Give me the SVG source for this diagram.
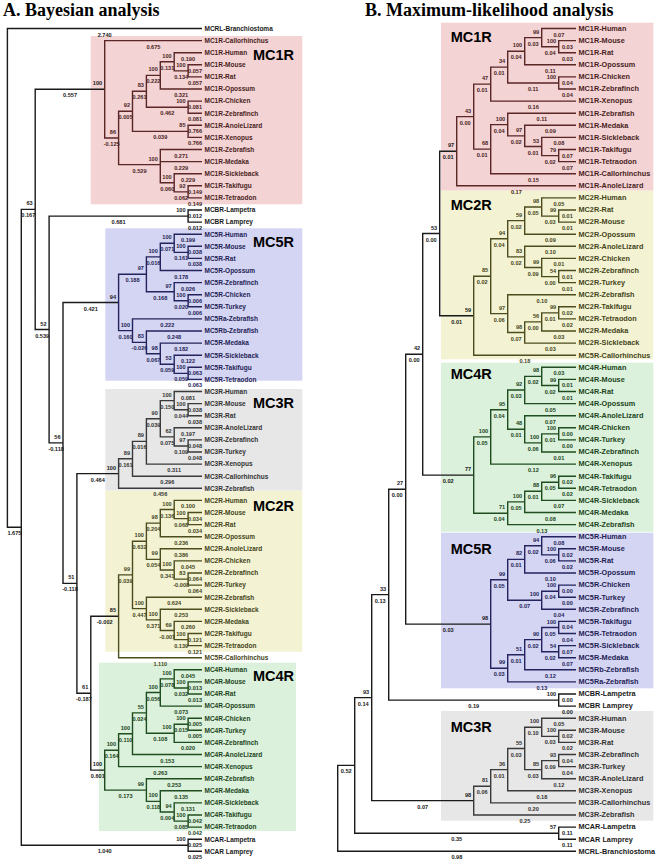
<svg xmlns="http://www.w3.org/2000/svg" width="661" height="865" viewBox="0 0 661 865">
<style>
.tt{font-family:"Liberation Serif","Times New Roman",serif;font-weight:bold;font-size:18px;fill:#000}
.bx{font-family:"Liberation Sans",Arial,sans-serif;font-weight:bold;font-size:14.5px;fill:#000}
.lf{font-family:"Liberation Sans",Arial,sans-serif;font-weight:bold;font-size:6.5px}
#b-leaves-outgroup,#b-mc1r,#b-mc2r,#b-mc4r,#b-mc5r,#b-mc3r{font-size:7.3px}
.nm{font-family:"Liberation Sans",Arial,sans-serif;font-weight:bold;font-size:5.6px}
.s{text-anchor:end}
.b{text-anchor:middle}
.ln path{fill:none;stroke-width:1.4}
.k0{stroke:#1a1a1a}.k1{stroke:#5a2626}.k2{stroke:#4c4c1e}.k3{stroke:#3a3a3a}.k4{stroke:#1f4d1f}.k5{stroke:#23235e}
.f0{fill:#1a1a1a}.f1{fill:#4a1e1e}.f2{fill:#45451a}.f3{fill:#333}.f4{fill:#1c451c}.f5{fill:#1e1e55}
.p1{fill:#f3d3d3}.p2{fill:#f3f3d3}.p3{fill:#e7e7e7}.p4{fill:#dbf1db}.p5{fill:#d4d4f3}
</style>
<rect width="661" height="865" fill="#fff"/>
<g id="boxes">
<rect class="p1" x="90.7" y="36" width="211.6" height="168.3"/>
<rect class="p5" x="105.3" y="228.3" width="197" height="152.4"/>
<rect class="p3" x="105.3" y="389" width="197" height="101.7"/>
<rect class="p2" x="105.3" y="490.7" width="197" height="161"/>
<rect class="p4" x="99" y="662.7" width="197" height="168.3"/>
<rect class="p1" x="441" y="22.7" width="212.3" height="168"/>
<rect class="p2" x="441" y="190.7" width="212.3" height="168.6"/>
<rect class="p4" x="441" y="362.7" width="212.3" height="169"/>
<rect class="p5" x="441" y="532.7" width="212.3" height="155.6"/>
<rect class="p3" x="441" y="711" width="212.3" height="109.7"/>
</g>
<g id="titles">
<text class="tt" x="3" y="16">A. Bayesian analysis</text>
<text class="tt" x="365" y="16">B. Maximum-likelihood analysis</text>
<text class="bx" x="253" y="60">MC1R</text>
<text class="bx" x="253" y="246.7">MC5R</text>
<text class="bx" x="253" y="408.3">MC3R</text>
<text class="bx" x="253" y="511">MC2R</text>
<text class="bx" x="253" y="680.7">MC4R</text>
<text class="bx" x="450.7" y="42.3">MC1R</text>
<text class="bx" x="450.7" y="210">MC2R</text>
<text class="bx" x="450.7" y="379.3">MC4R</text>
<text class="bx" x="450.7" y="554.3">MC5R</text>
<text class="bx" x="450.7" y="731.5">MC3R</text>
</g>
<g id="connectors" class="ln">
<g class="k0">
<path d="M202 28.5H7.4V527.3H21.3M35.2 209.4H21.3V845.3H188.1M104.7 89.3H35.2V329.5H49.1M188.1 216.1H49.1V442.9H63M118.6 302.5H63V583.4H76.9M118.6 473.6H76.9V693.2H90.8M118.6 616.3H90.8V770.1H104.7M202 210H188.1V222.1H202M202 839.2H188.1V851.3H202"/>
<path d="M354.7 765.4H337.7V851.3H576M371.7 697.6H354.7V833.2H558.7M388.7 594.6H371.7V800.6H473.7M405.7 489.2H388.7V700.1H558.7M422.7 354.3H405.7V624.1H490.7M439.7 233.5H422.7V475.1H473.7M456.7 151.2H439.7V315.7H473.7M576 694H558.7V706.1H576M576 827.1H558.7V839.2H576"/>
</g>
<g class="k1">
<path d="M202 40.6H104.7V138H118.6M132.5 111.3H118.6V164.6H160.3M146.4 91.3H132.5V131.4H188.1M160.3 75.4H146.4V107.2H188.1M174.2 61.8H160.3V89H202M202 52.7H174.2V70.9H188.1M202 64.8H188.1V76.9H202M202 101.1H188.1V113.2H202M202 125.3H188.1V137.4H202M202 149.5H160.3V182.8H174.2M160.3 161.6H202M202 173.7H174.2V191.9H188.1M202 185.8H188.1V197.9H202"/>
<path d="M473.7 116.6H456.7V185.8H576M490.7 84.1H473.7V149.1H490.7M507.7 67.1H490.7V101.1H576M524.7 51.2H507.7V83H558.7M541.7 37.6H524.7V64.8H576M576 28.5H541.7V46.7H558.7M576 40.6H558.7V52.7H576M576 76.9H558.7V89H576M507.7 124.6H490.7V173.7H576M576 113.2H507.7V135.9H524.7M576 125.3H524.7V146.5H541.7M576 137.4H541.7V155.6H558.7M576 149.5H558.7V161.6H576"/>
</g>
<g class="k5">
<path d="M146.4 274.3H118.6V330.6H132.5M160.3 256.9H146.4V291.7H174.2M174.2 243.3H160.3V270.5H202M202 234.2H174.2V252.4H188.1M202 246.3H188.1V258.4H202M202 282.6H174.2V300.8H188.1M202 294.7H188.1V306.8H202M202 318.9H132.5V342.4H146.4M202 331H146.4V353.7H160.3M202 343.1H160.3V364.3H174.2M202 355.2H174.2V373.4H188.1M202 367.3H188.1V379.4H202"/>
<path d="M507.7 579.8H490.7V668.3H507.7M524.7 559.4H507.7V600.2H541.7M541.7 545.8H524.7V573H576M576 536.7H541.7V554.9H558.7M576 548.8H558.7V560.9H576M558.7 591.2H541.7V609.3H576M576 585.1H558.7V597.2H576M524.7 654.7H507.7V681.9H576M541.7 639.6H524.7V669.8H576M558.7 627.5H541.7V651.7H558.7M576 621.4H558.7V633.5H576M576 645.6H558.7V657.7H576"/>
</g>
<g class="k3">
<path d="M132.5 458.8H118.6V488.3H202M146.4 441.4H132.5V476.2H202M160.3 418.8H146.4V464.1H202M174.2 400.6H160.3V436.9H174.2M202 391.5H174.2V409.7H188.1M202 403.6H188.1V415.7H202M202 427.8H174.2V446H188.1M202 439.9H188.1V452H202"/>
<path d="M490.7 786.3H473.7V815H576M507.7 769.6H490.7V802.9H576M524.7 748.5H507.7V790.8H576M541.7 727.3H524.7V769.6H541.7M576 718.2H541.7V736.4H558.7M576 730.3H558.7V742.4H576M558.7 760.6H541.7V778.7H576M576 754.5H558.7V766.6H576"/>
</g>
<g class="k2">
<path d="M132.5 574.9H118.6V657.7H202M146.4 541.3H132.5V608.6H146.4M160.3 523.1H146.4V559.4H160.3M174.2 509.5H160.3V536.7H202M202 500.4H174.2V518.6H188.1M202 512.5H188.1V524.6H202M202 548.8H160.3V570H174.2M202 560.9H174.2V579.1H188.1M202 573H188.1V585.1H202M202 597.2H146.4V619.9H160.3M202 609.3H160.3V630.5H174.2M202 621.4H174.2V639.6H188.1M202 633.5H188.1V645.6H202"/>
<path d="M490.7 276.2H473.7V355.2H576M507.7 238.8H490.7V313.6H507.7M524.7 220.6H507.7V256.9H524.7M541.7 207H524.7V234.2H576M576 197.9H541.7V216.1H558.7M576 210H558.7V222.1H576M576 246.3H524.7V267.5H541.7M576 258.4H541.7V276.6H558.7M576 270.5H558.7V282.6H576M576 294.7H507.7V332.5H524.7M541.7 321.9H524.7V343.1H576M558.7 312.9H541.7V331H576M576 306.8H558.7V318.9H576"/>
</g>
<g class="k4">
<path d="M118.6 750.2H104.7V790.1H146.4M132.5 733.7H118.6V766.6H202M146.4 712.9H132.5V754.5H202M160.3 692.5H146.4V733.3H174.2M174.2 678.9H160.3V706.1H202M202 669.8H174.2V688H188.1M202 681.9H188.1V694H202M188.1 724.3H174.2V742.4H202M202 718.2H188.1V730.3H202M202 778.7H146.4V801.4H160.3M202 790.8H160.3V812H174.2M202 802.9H174.2V821.1H188.1M202 815H188.1V827.1H202"/>
<path d="M490.7 436.9H473.7V513.3H507.7M507.7 409.7H490.7V464.1H576M524.7 390H507.7V429.3H524.7M541.7 376.4H524.7V403.6H576M576 367.3H541.7V385.5H558.7M576 379.4H558.7V391.5H576M576 415.7H524.7V442.9H541.7M558.7 433.9H541.7V452H576M576 427.8H558.7V439.9H576M524.7 501.9H507.7V524.6H576M541.7 491.3H524.7V512.5H576M558.7 482.3H541.7V500.4H576M576 476.2H558.7V488.3H576"/>
</g>
</g>

<g id="a-leaves-outgroup" class="lf f0">
<g id="a-mcrl-branchiostoma"><text x="204.5" y="30.8">MCRL-Branchiostoma</text><text class="nm b" x="104.7" y="36.5">2.740</text></g>
<g id="a-mcbr-lampetra"><text x="204.5" y="212.3">MCBR-Lampetra</text><text class="nm b" x="195.1" y="218">0.012</text></g>
<g id="a-mcbr-lamprey"><text x="204.5" y="224.4">MCBR Lamprey</text><text class="nm b" x="195.1" y="230.1">0.012</text></g>
<g id="a-mcar-lampetra"><text x="204.5" y="841.5">MCAR-Lampetra</text><text class="nm b" x="195.1" y="847.2">0.025</text></g>
<g id="a-mcar-lamprey"><text x="204.5" y="853.6">MCAR Lamprey</text><text class="nm b" x="195.1" y="859.3">0.025</text></g>
</g>
<g id="a-nodes-backbone" class="nm f0">
<g id="a-n1"><text class="b" x="14.4" y="535.3">1.675</text></g>
<g id="a-n2"><text class="s" x="32.7" y="205.4">63</text><text class="b" x="28.3" y="217.4">0.167</text></g>
<g id="a-n3"><text class="s" x="46.6" y="325.5">52</text><text class="b" x="42.2" y="337.5">0.539</text></g>
<g id="a-n4"><text class="s" x="60.5" y="438.9">56</text><text class="b" x="56.1" y="450.9">-0.118</text></g>
<g id="a-n5"><text class="s" x="74.4" y="579.4">51</text><text class="b" x="70" y="591.4">-0.118</text></g>
<g id="a-n6"><text class="s" x="88.3" y="689.2">61</text><text class="b" x="83.9" y="701.2">-0.187</text></g>
<g id="a-mcbr"><text class="s" x="185.6" y="212.1">100</text><text class="b" x="118.6" y="224.1">0.681</text></g>
<g id="a-mcar"><text class="s" x="185.6" y="841.3">100</text><text class="b" x="104.7" y="853.3">1.040</text></g>
<g id="a-mc1r-root"><text class="s" x="102.2" y="85.3">100</text><text class="b" x="70" y="97.3">0.557</text></g>
<g id="a-mc5r-root"><text class="s" x="116.1" y="298.5">94</text><text class="b" x="90.8" y="310.5">0.421</text></g>
<g id="a-mc3r-root"><text class="s" x="116.1" y="469.6">100</text><text class="b" x="97.8" y="481.6">0.464</text></g>
<g id="a-mc2r-root"><text class="s" x="116.1" y="612.3">85</text><text class="b" x="104.7" y="624.3">-0.002</text></g>
<g id="a-mc4r-root"><text class="s" x="102.2" y="766.1">100</text><text class="b" x="97.8" y="778.1">0.601</text></g>
</g>

<g id="a-mc1r" class="lf f1">
<g id="a-mc1r-callorhinchus"><text x="204.5" y="42.9">MC1R-Callorhinchus</text><text class="nm b" x="153.4" y="48.6">0.675</text></g>
<g id="a-mc1r-human"><text x="204.5" y="55">MC1R-Human</text><text class="nm b" x="188.1" y="60.7">0.190</text></g>
<g id="a-mc1r-mouse"><text x="204.5" y="67.1">MC1R-Mouse</text><text class="nm b" x="195.1" y="72.8">0.057</text></g>
<g id="a-mc1r-rat"><text x="204.5" y="79.2">MC1R-Rat</text><text class="nm b" x="195.1" y="84.9">0.057</text></g>
<g id="a-mc1r-opossum"><text x="204.5" y="91.3">MC1R-Opossum</text><text class="nm b" x="181.2" y="97">0.321</text></g>
<g id="a-mc1r-chicken"><text x="204.5" y="103.4">MC1R-Chicken</text><text class="nm b" x="195.1" y="109.1">0.081</text></g>
<g id="a-mc1r-zebrafinch"><text x="204.5" y="115.5">MC1R-Zebrafinch</text><text class="nm b" x="195.1" y="121.2">0.081</text></g>
<g id="a-mc1r-anolelizard"><text x="204.5" y="127.6">MC1R-AnoleLizard</text><text class="nm b" x="195.1" y="133.3">0.766</text></g>
<g id="a-mc1r-xenopus"><text x="204.5" y="139.7">MC1R-Xenopus</text><text class="nm b" x="195.1" y="145.4">0.766</text></g>
<g id="a-mc1r-zebrafish"><text x="204.5" y="151.8">MC1R-Zebrafish</text><text class="nm b" x="181.2" y="157.5">0.271</text></g>
<g id="a-mc1r-medaka"><text x="204.5" y="163.9">MC1R-Medaka</text><text class="nm b" x="181.2" y="169.6">0.229</text></g>
<g id="a-mc1r-sickleback"><text x="204.5" y="176">MC1R-Sickleback</text><text class="nm b" x="188.1" y="181.7">0.229</text></g>
<g id="a-mc1r-takifugu"><text x="204.5" y="188.1">MC1R-Takifugu</text><text class="nm b" x="195.1" y="193.8">0.149</text></g>
<g id="a-mc1r-tetraodon"><text x="204.5" y="200.2">MC1R-Tetraodon</text><text class="nm b" x="195.1" y="205.9">0.149</text></g>
<g class="nm">
<g id="a-mc1r-m1"><text class="s" x="116.1" y="134">86</text><text class="b" x="111.7" y="146">-0.125</text></g>
<g id="a-mc1r-m2"><text class="s" x="130" y="107.3">92</text><text class="b" x="125.6" y="119.3">0.005</text></g>
<g id="a-mc1r-m3"><text class="s" x="143.9" y="87.3">83</text><text class="b" x="139.5" y="99.3">0.261</text></g>
<g id="a-mc1r-m4"><text class="s" x="157.8" y="71.4">100</text><text class="b" x="153.4" y="83.4">0.222</text></g>
<g id="a-mc1r-hmr"><text class="s" x="171.7" y="57.8">100</text><text class="b" x="167.3" y="69.8">0.131</text></g>
<g id="a-mc1r-mr"><text class="s" x="185.6" y="66.9">100</text><text class="b" x="181.2" y="78.9">0.134</text></g>
<g id="a-mc1r-cz"><text class="s" x="185.6" y="103.2">100</text><text class="b" x="167.3" y="115.2">0.462</text></g>
<g id="a-mc1r-ax"><text class="s" x="185.6" y="127.4">85</text><text class="b" x="160.3" y="139.4">0.039</text></g>
<g id="a-mc1r-fish"><text class="s" x="157.8" y="160.6">100</text><text class="b" x="139.5" y="172.6">0.529</text></g>
<g id="a-mc1r-f"><text class="s" x="171.7" y="178.8">100</text><text class="b" x="167.3" y="190.8">0.060</text></g>
<g id="a-mc1r-tt"><text class="s" x="185.6" y="187.9">92</text><text class="b" x="181.2" y="199.9">0.062</text></g>
</g>
</g>

<g id="a-mc5r" class="lf f5">
<g id="a-mc5r-human"><text x="204.5" y="236.5">MC5R-Human</text><text class="nm b" x="188.1" y="242.2">0.199</text></g>
<g id="a-mc5r-mouse"><text x="204.5" y="248.6">MC5R-Mouse</text><text class="nm b" x="195.1" y="254.3">0.038</text></g>
<g id="a-mc5r-rat"><text x="204.5" y="260.7">MC5R-Rat</text><text class="nm b" x="195.1" y="266.4">0.038</text></g>
<g id="a-mc5r-opossum"><text x="204.5" y="272.8">MC5R-Opossum</text><text class="nm b" x="181.2" y="278.5">0.178</text></g>
<g id="a-mc5r-zebrafinch"><text x="204.5" y="284.9">MC5R-Zebrafinch</text><text class="nm b" x="188.1" y="290.6">0.026</text></g>
<g id="a-mc5r-chicken"><text x="204.5" y="297">MC5R-Chicken</text><text class="nm b" x="195.1" y="302.7">0.006</text></g>
<g id="a-mc5r-turkey"><text x="204.5" y="309.1">MC5R-Turkey</text><text class="nm b" x="195.1" y="314.8">0.006</text></g>
<g id="a-mc5ra-zebrafish"><text x="204.5" y="321.2">MC5Ra-Zebrafish</text><text class="nm b" x="167.3" y="326.9">0.222</text></g>
<g id="a-mc5rb-zebrafish"><text x="204.5" y="333.3">MC5Rb-Zebrafish</text><text class="nm b" x="174.2" y="339">0.248</text></g>
<g id="a-mc5r-medaka"><text x="204.5" y="345.4">MC5R-Medaka</text><text class="nm b" x="181.2" y="351.1">0.182</text></g>
<g id="a-mc5r-sickleback"><text x="204.5" y="357.5">MC5R-Sickleback</text><text class="nm b" x="188.1" y="363.2">0.122</text></g>
<g id="a-mc5r-takifugu"><text x="204.5" y="369.6">MC5R-Takifugu</text><text class="nm b" x="195.1" y="375.3">0.063</text></g>
<g id="a-mc5r-tetraodon"><text x="204.5" y="381.7">MC5R-Tetraodon</text><text class="nm b" x="195.1" y="387.4">0.063</text></g>
<g class="nm">
<g id="a-mc5r-a"><text class="s" x="143.9" y="270.3">97</text><text class="b" x="132.5" y="282.3">0.188</text></g>
<g id="a-mc5r-hmro"><text class="s" x="157.8" y="252.9">100</text><text class="b" x="153.4" y="264.9">0.016</text></g>
<g id="a-mc5r-hmr"><text class="s" x="171.7" y="239.3">100</text><text class="b" x="167.3" y="251.3">0.071</text></g>
<g id="a-mc5r-mr"><text class="s" x="185.6" y="248.4">100</text><text class="b" x="181.2" y="260.4">0.161</text></g>
<g id="a-mc5r-zct"><text class="s" x="171.7" y="287.7">97</text><text class="b" x="160.3" y="299.7">0.168</text></g>
<g id="a-mc5r-ct"><text class="s" x="185.6" y="296.8">100</text><text class="b" x="181.2" y="308.8">0.020</text></g>
<g id="a-mc5r-b"><text class="s" x="130" y="326.6">100</text><text class="b" x="125.6" y="338.6">0.160</text></g>
<g id="a-mc5r-rb"><text class="s" x="143.9" y="338.4">83</text><text class="b" x="139.5" y="350.4">-0.026</text></g>
<g id="a-mc5r-mstt"><text class="s" x="157.8" y="349.7">98</text><text class="b" x="153.4" y="361.7">0.067</text></g>
<g id="a-mc5r-stt"><text class="s" x="171.7" y="360.3">53</text><text class="b" x="167.3" y="372.3">0.059</text></g>
<g id="a-mc5r-tt"><text class="s" x="185.6" y="369.4">100</text><text class="b" x="181.2" y="381.4">0.059</text></g>
</g>
</g>

<g id="a-mc3r" class="lf f3">
<g id="a-mc3r-human"><text x="204.5" y="393.8">MC3R-Human</text><text class="nm b" x="188.1" y="399.5">0.081</text></g>
<g id="a-mc3r-mouse"><text x="204.5" y="405.9">MC3R-Mouse</text><text class="nm b" x="195.1" y="411.6">0.038</text></g>
<g id="a-mc3r-rat"><text x="204.5" y="418">MC3R-Rat</text><text class="nm b" x="195.1" y="423.7">0.038</text></g>
<g id="a-mc3r-anolelizard"><text x="204.5" y="430.1">MC3R-AnoleLizard</text><text class="nm b" x="188.1" y="435.8">0.197</text></g>
<g id="a-mc3r-zebrafinch"><text x="204.5" y="442.2">MC3R-Zebrafinch</text><text class="nm b" x="195.1" y="447.9">0.048</text></g>
<g id="a-mc3r-turkey"><text x="204.5" y="454.3">MC3R-Turkey</text><text class="nm b" x="195.1" y="460">0.048</text></g>
<g id="a-mc3r-xenopus"><text x="204.5" y="466.4">MC3R-Xenopus</text><text class="nm b" x="174.2" y="472.1">0.311</text></g>
<g id="a-mc3r-callorhinchus"><text x="204.5" y="478.5">MC3R-Callorhinchus</text><text class="nm b" x="167.3" y="484.2">0.296</text></g>
<g id="a-mc3r-zebrafish"><text x="204.5" y="490.6">MC3R-Zebrafish</text><text class="nm b" x="160.3" y="496.3">0.456</text></g>
<g class="nm">
<g id="a-mc3r-x5"><text class="s" x="130" y="454.8">89</text><text class="b" x="125.6" y="466.8">0.161</text></g>
<g id="a-mc3r-x4"><text class="s" x="143.9" y="437.4">89</text><text class="b" x="139.5" y="449.4">0.016</text></g>
<g id="a-mc3r-x3"><text class="s" x="157.8" y="414.8">90</text><text class="b" x="153.4" y="426.8">0.039</text></g>
<g id="a-mc3r-hmr"><text class="s" x="171.7" y="396.6">100</text><text class="b" x="167.3" y="408.6">0.150</text></g>
<g id="a-mc3r-mr"><text class="s" x="185.6" y="405.7">100</text><text class="b" x="181.2" y="417.7">0.044</text></g>
<g id="a-mc3r-x2"><text class="s" x="171.7" y="432.9">62</text><text class="b" x="167.3" y="444.9">0.075</text></g>
<g id="a-mc3r-zt"><text class="s" x="185.6" y="442">97</text><text class="b" x="181.2" y="454">0.109</text></g>
</g>
</g>

<g id="a-mc2r" class="lf f2">
<g id="a-mc2r-human"><text x="204.5" y="502.7">MC2R-Human</text><text class="nm b" x="188.1" y="508.4">0.100</text></g>
<g id="a-mc2r-mouse"><text x="204.5" y="514.8">MC2R-Mouse</text><text class="nm b" x="195.1" y="520.5">0.034</text></g>
<g id="a-mc2r-rat"><text x="204.5" y="526.9">MC2R-Rat</text><text class="nm b" x="195.1" y="532.6">0.034</text></g>
<g id="a-mc2r-opossum"><text x="204.5" y="539">MC2R-Opossum</text><text class="nm b" x="181.2" y="544.7">0.236</text></g>
<g id="a-mc2r-anolelizard"><text x="204.5" y="551.1">MC2R-AnoleLizard</text><text class="nm b" x="181.2" y="556.8">0.386</text></g>
<g id="a-mc2r-chicken"><text x="204.5" y="563.2">MC2R-Chicken</text><text class="nm b" x="188.1" y="568.9">0.045</text></g>
<g id="a-mc2r-zebrafinch"><text x="204.5" y="575.3">MC2R-Zebrafinch</text><text class="nm b" x="195.1" y="581">0.064</text></g>
<g id="a-mc2r-turkey"><text x="204.5" y="587.4">MC2R-Turkey</text><text class="nm b" x="195.1" y="593.1">0.064</text></g>
<g id="a-mc2r-zebrafish"><text x="204.5" y="599.5">MC2R-Zebrafish</text><text class="nm b" x="174.2" y="605.2">0.624</text></g>
<g id="a-mc2r-sickleback"><text x="204.5" y="611.6">MC2R-Sickleback</text><text class="nm b" x="181.2" y="617.3">0.253</text></g>
<g id="a-mc2r-medaka"><text x="204.5" y="623.7">MC2R-Medaka</text><text class="nm b" x="188.1" y="629.4">0.260</text></g>
<g id="a-mc2r-takifugu"><text x="204.5" y="635.8">MC2R-Takifugu</text><text class="nm b" x="195.1" y="641.5">0.121</text></g>
<g id="a-mc2r-tetraodon"><text x="204.5" y="647.9">MC2R-Tetraodon</text><text class="nm b" x="195.1" y="653.6">0.121</text></g>
<g id="a-mc5r-callorhinchus"><text x="204.5" y="660">MC5R-Callorhinchus</text><text class="nm b" x="160.3" y="665.7">1.110</text></g>
<g class="nm">
<g id="a-mc2r-tf"><text class="s" x="130" y="570.9">99</text><text class="b" x="125.6" y="582.9">0.039</text></g>
<g id="a-mc2r-tet"><text class="s" x="143.9" y="537.3">100</text><text class="b" x="139.5" y="549.3">0.632</text></g>
<g id="a-mc2r-hmro"><text class="s" x="157.8" y="519.1">98</text><text class="b" x="153.4" y="531.1">0.204</text></g>
<g id="a-mc2r-hmr"><text class="s" x="171.7" y="505.5">100</text><text class="b" x="167.3" y="517.5">0.136</text></g>
<g id="a-mc2r-mr"><text class="s" x="185.6" y="514.6">100</text><text class="b" x="181.2" y="526.6">0.068</text></g>
<g id="a-mc2r-aczt"><text class="s" x="157.8" y="555.4">99</text><text class="b" x="153.4" y="567.4">0.054</text></g>
<g id="a-mc2r-czt"><text class="s" x="171.7" y="566">100</text><text class="b" x="167.3" y="578">0.341</text></g>
<g id="a-mc2r-zt"><text class="s" x="185.6" y="575.1">83</text><text class="b" x="181.2" y="587.1">-0.008</text></g>
<g id="a-mc2r-zsmtt"><text class="s" x="143.9" y="604.6">100</text><text class="b" x="139.5" y="616.6">0.447</text></g>
<g id="a-mc2r-smtt"><text class="s" x="157.8" y="615.9">100</text><text class="b" x="153.4" y="627.9">0.371</text></g>
<g id="a-mc2r-mtt"><text class="s" x="171.7" y="626.5">69</text><text class="b" x="167.3" y="638.5">-0.007</text></g>
<g id="a-mc2r-tt"><text class="s" x="185.6" y="635.6">100</text><text class="b" x="181.2" y="647.6">0.139</text></g>
</g>
</g>

<g id="a-mc4r" class="lf f4">
<g id="a-mc4r-human"><text x="204.5" y="672.1">MC4R-Human</text><text class="nm b" x="188.1" y="677.8">0.045</text></g>
<g id="a-mc4r-mouse"><text x="204.5" y="684.2">MC4R-Mouse</text><text class="nm b" x="195.1" y="689.9">0.013</text></g>
<g id="a-mc4r-rat"><text x="204.5" y="696.3">MC4R-Rat</text><text class="nm b" x="195.1" y="702">0.013</text></g>
<g id="a-mc4r-opossum"><text x="204.5" y="708.4">MC4R-Opossum</text><text class="nm b" x="181.2" y="714.1">0.073</text></g>
<g id="a-mc4r-chicken"><text x="204.5" y="720.5">MC4R-Chicken</text><text class="nm b" x="195.1" y="726.2">0.005</text></g>
<g id="a-mc4r-turkey"><text x="204.5" y="732.6">MC4R-Turkey</text><text class="nm b" x="195.1" y="738.3">0.005</text></g>
<g id="a-mc4r-zebrafinch"><text x="204.5" y="744.7">MC4R-Zebrafinch</text><text class="nm b" x="188.1" y="750.4">0.020</text></g>
<g id="a-mc4r-anolelizard"><text x="204.5" y="756.8">MC4R-AnoleLizard</text><text class="nm b" x="167.3" y="762.5">0.153</text></g>
<g id="a-mc4r-xenopus"><text x="204.5" y="768.9">MC4R-Xenopus</text><text class="nm b" x="160.3" y="774.6">0.263</text></g>
<g id="a-mc4r-zebrafish"><text x="204.5" y="781">MC4R-Zebrafish</text><text class="nm b" x="174.2" y="786.7">0.253</text></g>
<g id="a-mc4r-medaka"><text x="204.5" y="793.1">MC4R-Medaka</text><text class="nm b" x="181.2" y="798.8">0.135</text></g>
<g id="a-mc4r-sickleback"><text x="204.5" y="805.2">MC4R-Sickleback</text><text class="nm b" x="188.1" y="810.9">0.131</text></g>
<g id="a-mc4r-takifugu"><text x="204.5" y="817.3">MC4R-Takifugu</text><text class="nm b" x="195.1" y="823">0.042</text></g>
<g id="a-mc4r-tetraodon"><text x="204.5" y="829.4">MC4R-Tetraodon</text><text class="nm b" x="195.1" y="835.1">0.042</text></g>
<g class="nm">
<g id="a-mc4r-t6"><text class="s" x="116.1" y="746.2">100</text><text class="b" x="111.7" y="758.2">0.164</text></g>
<g id="a-mc4r-t5"><text class="s" x="130" y="729.7">100</text><text class="b" x="125.6" y="741.7">0.110</text></g>
<g id="a-mc4r-t4"><text class="s" x="143.9" y="708.9">55</text><text class="b" x="139.5" y="720.9">0.024</text></g>
<g id="a-mc4r-hmro"><text class="s" x="157.8" y="688.5">100</text><text class="b" x="153.4" y="700.5">0.056</text></g>
<g id="a-mc4r-hmr"><text class="s" x="171.7" y="674.9">100</text><text class="b" x="167.3" y="686.9">0.078</text></g>
<g id="a-mc4r-mr"><text class="s" x="185.6" y="684">100</text><text class="b" x="181.2" y="696">0.032</text></g>
<g id="a-mc4r-ctz"><text class="s" x="171.7" y="729.3">100</text><text class="b" x="160.3" y="741.3">0.108</text></g>
<g id="a-mc4r-ct"><text class="s" x="185.6" y="720.3">100</text><text class="b" x="181.2" y="732.3">0.015</text></g>
<g id="a-mc4r-zmstt"><text class="s" x="143.9" y="786.1">99</text><text class="b" x="125.6" y="798.1">0.173</text></g>
<g id="a-mc4r-mstt"><text class="s" x="157.8" y="797.4">100</text><text class="b" x="153.4" y="809.4">0.118</text></g>
<g id="a-mc4r-stt"><text class="s" x="171.7" y="808">94</text><text class="b" x="167.3" y="820">0.004</text></g>
<g id="a-mc4r-tt"><text class="s" x="185.6" y="817.1">100</text><text class="b" x="181.2" y="829.1">0.085</text></g>
</g>
</g>

<g id="b-leaves-outgroup" class="lf f0">
<g id="b-mcbr-lampetra"><text x="578.5" y="696.3">MCBR-Lampetra</text><text class="nm b" x="567.4" y="702">0.00</text></g>
<g id="b-mcbr-lamprey"><text x="578.5" y="708.4">MCBR Lamprey</text><text class="nm b" x="567.4" y="714.1">0.00</text></g>
<g id="b-mcar-lampetra"><text x="578.5" y="829.4">MCAR-Lampetra</text><text class="nm b" x="567.4" y="835.1">0.11</text></g>
<g id="b-mcar-lamprey"><text x="578.5" y="841.5">MCAR Lamprey</text><text class="nm b" x="567.4" y="847.2">0.11</text></g>
<g id="b-mcrl-branchiostoma"><text x="578.5" y="853.6">MCRL-Branchiostoma</text><text class="nm b" x="456.9" y="859.3">0.98</text></g>
</g>
<g id="b-nodes-backbone" class="nm f0">
<g id="b-r2"><text class="b" x="346.2" y="773.4">0.52</text></g>
<g id="b-r3"><text class="s" x="369.2" y="693.6">93</text><text class="b" x="363.2" y="705.6">0.14</text></g>
<g id="b-r4"><text class="s" x="386.2" y="590.6">33</text><text class="b" x="380.2" y="602.6">0.13</text></g>
<g id="b-r5"><text class="s" x="403.2" y="485.2">27</text><text class="b" x="397.2" y="497.2">0.00</text></g>
<g id="b-r6"><text class="s" x="420.2" y="350.3">42</text><text class="b" x="414.2" y="362.3">0.00</text></g>
<g id="b-r7"><text class="s" x="437.2" y="229.5">53</text><text class="b" x="431.2" y="241.5">0.00</text></g>
<g id="b-mcar"><text class="s" x="556.2" y="829.2">57</text><text class="b" x="456.7" y="841.2">0.35</text></g>
<g id="b-mcbr"><text class="s" x="556.2" y="696.1">100</text><text class="b" x="473.7" y="708.1">0.19</text></g>
<g id="b-mc3r-root"><text class="s" x="471.2" y="796.6">98</text><text class="b" x="422.7" y="808.6">0.07</text></g>
<g id="b-mc5r-root"><text class="s" x="488.2" y="620.1">98</text><text class="b" x="448.2" y="632.1">0.03</text></g>
<g id="b-mc4r-root"><text class="s" x="471.2" y="471.1">77</text><text class="b" x="448.2" y="483.1">0.02</text></g>
<g id="b-mc2r-root"><text class="s" x="471.2" y="311.7">59</text><text class="b" x="456.7" y="323.7">0.01</text></g>
<g id="b-mc1r-root"><text class="s" x="454.2" y="147.2">97</text><text class="b" x="448.2" y="159.2">0.01</text></g>
</g>

<g id="b-mc1r" class="lf f1">
<g id="b-mc1r-human"><text x="578.5" y="30.8">MC1R-Human</text><text class="nm b" x="558.9" y="36.5">0.07</text></g>
<g id="b-mc1r-mouse"><text x="578.5" y="42.9">MC1R-Mouse</text><text class="nm b" x="567.4" y="48.6">0.03</text></g>
<g id="b-mc1r-rat"><text x="578.5" y="55">MC1R-Rat</text><text class="nm b" x="567.4" y="60.7">0.03</text></g>
<g id="b-mc1r-opossum"><text x="578.5" y="67.1">MC1R-Opossum</text><text class="nm b" x="550.4" y="72.8">0.11</text></g>
<g id="b-mc1r-chicken"><text x="578.5" y="79.2">MC1R-Chicken</text><text class="nm b" x="567.4" y="84.9">0.04</text></g>
<g id="b-mc1r-zebrafinch"><text x="578.5" y="91.3">MC1R-Zebrafinch</text><text class="nm b" x="567.4" y="97">0.04</text></g>
<g id="b-mc1r-xenopus"><text x="578.5" y="103.4">MC1R-Xenopus</text><text class="nm b" x="533.4" y="109.1">0.16</text></g>
<g id="b-mc1r-zebrafish"><text x="578.5" y="115.5">MC1R-Zebrafish</text><text class="nm b" x="541.9" y="121.2">0.11</text></g>
<g id="b-mc1r-medaka"><text x="578.5" y="127.6">MC1R-Medaka</text><text class="nm b" x="550.4" y="133.3">0.09</text></g>
<g id="b-mc1r-sickleback"><text x="578.5" y="139.7">MC1R-Sickleback</text><text class="nm b" x="558.9" y="145.4">0.08</text></g>
<g id="b-mc1r-takifugu"><text x="578.5" y="151.8">MC1R-Takifugu</text><text class="nm b" x="567.4" y="157.5">0.07</text></g>
<g id="b-mc1r-tetraodon"><text x="578.5" y="163.9">MC1R-Tetraodon</text><text class="nm b" x="567.4" y="169.6">0.07</text></g>
<g id="b-mc1r-callorhinchus"><text x="578.5" y="176">MC1R-Callorhinchus</text><text class="nm b" x="533.4" y="181.7">0.15</text></g>
<g id="b-mc1r-anolelizard"><text x="578.5" y="188.1">MC1R-AnoleLizard</text><text class="nm b" x="516.4" y="193.8">0.17</text></g>
<g class="nm">
<g id="b-mc1r-c2"><text class="s" x="471.2" y="112.6">43</text><text class="b" x="465.2" y="124.6">0.00</text></g>
<g id="b-mc1r-c3"><text class="s" x="488.2" y="80.1">47</text><text class="b" x="482.2" y="92.1">0.01</text></g>
<g id="b-mc1r-c5"><text class="s" x="505.2" y="63.1">34</text><text class="b" x="499.2" y="75.1">0.01</text></g>
<g id="b-mc1r-c7"><text class="s" x="522.2" y="47.2">100</text><text class="b" x="516.2" y="59.2">0.04</text></g>
<g id="b-mc1r-hmr"><text class="s" x="539.2" y="33.6">99</text><text class="b" x="533.2" y="45.6">0.03</text></g>
<g id="b-mc1r-mr"><text class="s" x="556.2" y="42.7">100</text><text class="b" x="550.2" y="54.7">0.04</text></g>
<g id="b-mc1r-cz"><text class="s" x="556.2" y="79">100</text><text class="b" x="533.2" y="91">0.11</text></g>
<g id="b-mc1r-c4"><text class="s" x="488.2" y="145.1">68</text><text class="b" x="482.2" y="157.1">0.01</text></g>
<g id="b-mc1r-c6"><text class="s" x="505.2" y="120.6">100</text><text class="b" x="499.2" y="132.6">0.04</text></g>
<g id="b-mc1r-f1"><text class="s" x="522.2" y="131.9">97</text><text class="b" x="516.2" y="143.9">0.02</text></g>
<g id="b-mc1r-f2"><text class="s" x="539.2" y="142.5">53</text><text class="b" x="533.2" y="154.5">0.01</text></g>
<g id="b-mc1r-tt"><text class="s" x="556.2" y="151.6">79</text><text class="b" x="550.2" y="163.6">0.02</text></g>
</g>
</g>

<g id="b-mc2r" class="lf f2">
<g id="b-mc2r-human"><text x="578.5" y="200.2">MC2R-Human</text><text class="nm b" x="558.9" y="205.9">0.05</text></g>
<g id="b-mc2r-rat"><text x="578.5" y="212.3">MC2R-Rat</text><text class="nm b" x="567.4" y="218">0.01</text></g>
<g id="b-mc2r-mouse"><text x="578.5" y="224.4">MC2R-Mouse</text><text class="nm b" x="567.4" y="230.1">0.01</text></g>
<g id="b-mc2r-opossum"><text x="578.5" y="236.5">MC2R-Opossum</text><text class="nm b" x="550.4" y="242.2">0.09</text></g>
<g id="b-mc2r-anolelizard"><text x="578.5" y="248.6">MC2R-AnoleLizard</text><text class="nm b" x="550.4" y="254.3">0.10</text></g>
<g id="b-mc2r-chicken"><text x="578.5" y="260.7">MC2R-Chicken</text><text class="nm b" x="558.9" y="266.4">0.01</text></g>
<g id="b-mc2r-zebrafinch"><text x="578.5" y="272.8">MC2R-Zebrafinch</text><text class="nm b" x="567.4" y="278.5">0.01</text></g>
<g id="b-mc2r-turkey"><text x="578.5" y="284.9">MC2R-Turkey</text><text class="nm b" x="567.4" y="290.6">0.01</text></g>
<g id="b-mc2r-zebrafish"><text x="578.5" y="297">MC2R-Zebrafish</text><text class="nm b" x="541.9" y="302.7">0.10</text></g>
<g id="b-mc2r-takifugu"><text x="578.5" y="309.1">MC2R-Takifugu</text><text class="nm b" x="567.4" y="314.8">0.02</text></g>
<g id="b-mc2r-tetraodon"><text x="578.5" y="321.2">MC2R-Tetraodon</text><text class="nm b" x="567.4" y="326.9">0.02</text></g>
<g id="b-mc2r-medaka"><text x="578.5" y="333.3">MC2R-Medaka</text><text class="nm b" x="558.9" y="339">0.03</text></g>
<g id="b-mc2r-sickleback"><text x="578.5" y="345.4">MC2R-Sickleback</text><text class="nm b" x="550.4" y="351.1">0.03</text></g>
<g id="b-mc5r-callorhinchus"><text x="578.5" y="357.5">MC5R-Callorhinchus</text><text class="nm b" x="524.9" y="363.2">0.18</text></g>
<g class="nm">
<g id="b-mc2r-u"><text class="s" x="488.2" y="272.2">85</text><text class="b" x="482.2" y="284.2">0.02</text></g>
<g id="b-mc2r-t"><text class="s" x="505.2" y="234.8">94</text><text class="b" x="499.2" y="246.8">0.04</text></g>
<g id="b-mc2r-hmro"><text class="s" x="522.2" y="216.6">59</text><text class="b" x="516.2" y="228.6">0.02</text></g>
<g id="b-mc2r-hmr"><text class="s" x="539.2" y="203">98</text><text class="b" x="533.2" y="215">0.05</text></g>
<g id="b-mc2r-rm"><text class="s" x="556.2" y="212.1">99</text><text class="b" x="550.2" y="224.1">0.03</text></g>
<g id="b-mc2r-aczt"><text class="s" x="522.2" y="252.9">83</text><text class="b" x="516.2" y="264.9">0.02</text></g>
<g id="b-mc2r-czt"><text class="s" x="539.2" y="263.5">99</text><text class="b" x="533.2" y="275.5">0.09</text></g>
<g id="b-mc2r-zt"><text class="s" x="556.2" y="272.6">54</text><text class="b" x="550.2" y="284.6">0.00</text></g>
<g id="b-mc2r-fish"><text class="s" x="505.2" y="309.6">97</text><text class="b" x="499.2" y="321.6">0.06</text></g>
<g id="b-mc2r-ttms"><text class="s" x="522.2" y="328.5">98</text><text class="b" x="516.2" y="340.5">0.07</text></g>
<g id="b-mc2r-ttm"><text class="s" x="539.2" y="317.9">56</text><text class="b" x="533.2" y="329.9">0.00</text></g>
<g id="b-mc2r-tt"><text class="s" x="556.2" y="308.9">99</text><text class="b" x="550.2" y="320.9">0.01</text></g>
</g>
</g>

<g id="b-mc4r" class="lf f4">
<g id="b-mc4r-human"><text x="578.5" y="369.6">MC4R-Human</text><text class="nm b" x="558.9" y="375.3">0.03</text></g>
<g id="b-mc4r-mouse"><text x="578.5" y="381.7">MC4R-Mouse</text><text class="nm b" x="567.4" y="387.4">0.01</text></g>
<g id="b-mc4r-rat"><text x="578.5" y="393.8">MC4R-Rat</text><text class="nm b" x="567.4" y="399.5">0.01</text></g>
<g id="b-mc4r-opossum"><text x="578.5" y="405.9">MC4R-Opossum</text><text class="nm b" x="550.4" y="411.6">0.05</text></g>
<g id="b-mc4r-anolelizard"><text x="578.5" y="418">MC4R-AnoleLizard</text><text class="nm b" x="550.4" y="423.7">0.07</text></g>
<g id="b-mc4r-chicken"><text x="578.5" y="430.1">MC4R-Chicken</text><text class="nm b" x="567.4" y="435.8">0.00</text></g>
<g id="b-mc4r-turkey"><text x="578.5" y="442.2">MC4R-Turkey</text><text class="nm b" x="567.4" y="447.9">0.00</text></g>
<g id="b-mc4r-zebrafinch"><text x="578.5" y="454.3">MC4R-Zebrafinch</text><text class="nm b" x="558.9" y="460">0.01</text></g>
<g id="b-mc4r-xenopus"><text x="578.5" y="466.4">MC4R-Xenopus</text><text class="nm b" x="533.4" y="472.1">0.12</text></g>
<g id="b-mc4r-takifugu"><text x="578.5" y="478.5">MC4R-Takifugu</text><text class="nm b" x="567.4" y="484.2">0.02</text></g>
<g id="b-mc4r-tetraodon"><text x="578.5" y="490.6">MC4R-Tetraodon</text><text class="nm b" x="567.4" y="496.3">0.02</text></g>
<g id="b-mc4r-sickleback"><text x="578.5" y="502.7">MC4R-Sickleback</text><text class="nm b" x="558.9" y="508.4">0.07</text></g>
<g id="b-mc4r-medaka"><text x="578.5" y="514.8">MC4R-Medaka</text><text class="nm b" x="550.4" y="520.5">0.08</text></g>
<g id="b-mc4r-zebrafish"><text x="578.5" y="526.9">MC4R-Zebrafish</text><text class="nm b" x="541.9" y="532.6">0.13</text></g>
<g class="nm">
<g id="b-mc4r-tet"><text class="s" x="488.2" y="432.9">100</text><text class="b" x="482.2" y="444.9">0.05</text></g>
<g id="b-mc4r-t"><text class="s" x="505.2" y="405.7">95</text><text class="b" x="499.2" y="417.7">0.04</text></g>
<g id="b-mc4r-hmro"><text class="s" x="522.2" y="386">92</text><text class="b" x="516.2" y="398">0.03</text></g>
<g id="b-mc4r-hmr"><text class="s" x="539.2" y="372.4">98</text><text class="b" x="533.2" y="384.4">0.02</text></g>
<g id="b-mc4r-mr"><text class="s" x="556.2" y="381.5">99</text><text class="b" x="550.2" y="393.5">0.02</text></g>
<g id="b-mc4r-ab"><text class="s" x="522.2" y="425.3">48</text><text class="b" x="516.2" y="437.3">0.01</text></g>
<g id="b-mc4r-ctz"><text class="s" x="539.2" y="438.9">100</text><text class="b" x="533.2" y="450.9">0.06</text></g>
<g id="b-mc4r-ct"><text class="s" x="556.2" y="429.9">100</text><text class="b" x="550.2" y="441.9">0.01</text></g>
<g id="b-mc4r-fish"><text class="s" x="505.2" y="509.3">71</text><text class="b" x="499.2" y="521.3">0.04</text></g>
<g id="b-mc4r-ttsm"><text class="s" x="522.2" y="497.9">100</text><text class="b" x="516.2" y="509.9">0.05</text></g>
<g id="b-mc4r-tts"><text class="s" x="539.2" y="487.3">88</text><text class="b" x="533.2" y="499.3">0.01</text></g>
<g id="b-mc4r-tt"><text class="s" x="556.2" y="478.3">96</text><text class="b" x="550.2" y="490.3">0.05</text></g>
</g>
</g>

<g id="b-mc5r" class="lf f5">
<g id="b-mc5r-human"><text x="578.5" y="539">MC5R-Human</text><text class="nm b" x="558.9" y="544.7">0.08</text></g>
<g id="b-mc5r-mouse"><text x="578.5" y="551.1">MC5R-Mouse</text><text class="nm b" x="567.4" y="556.8">0.02</text></g>
<g id="b-mc5r-rat"><text x="578.5" y="563.2">MC5R-Rat</text><text class="nm b" x="567.4" y="568.9">0.02</text></g>
<g id="b-mc5r-opossum"><text x="578.5" y="575.3">MC5R-Opossum</text><text class="nm b" x="550.4" y="581">0.10</text></g>
<g id="b-mc5r-chicken"><text x="578.5" y="587.4">MC5R-Chicken</text><text class="nm b" x="567.4" y="593.1">0.00</text></g>
<g id="b-mc5r-turkey"><text x="578.5" y="599.5">MC5R-Turkey</text><text class="nm b" x="567.4" y="605.2">0.00</text></g>
<g id="b-mc5r-zebrafinch"><text x="578.5" y="611.6">MC5R-Zebrafinch</text><text class="nm b" x="558.9" y="617.3">0.04</text></g>
<g id="b-mc5r-takifugu"><text x="578.5" y="623.7">MC5R-Takifugu</text><text class="nm b" x="567.4" y="629.4">0.04</text></g>
<g id="b-mc5r-tetraodon"><text x="578.5" y="635.8">MC5R-Tetraodon</text><text class="nm b" x="567.4" y="641.5">0.04</text></g>
<g id="b-mc5r-sickleback"><text x="578.5" y="647.9">MC5R-Sickleback</text><text class="nm b" x="567.4" y="653.6">0.07</text></g>
<g id="b-mc5r-medaka"><text x="578.5" y="660">MC5R-Medaka</text><text class="nm b" x="567.4" y="665.7">0.07</text></g>
<g id="b-mc5rb-zebrafish"><text x="578.5" y="672.1">MC5Rb-Zebrafish</text><text class="nm b" x="550.4" y="677.8">0.12</text></g>
<g id="b-mc5ra-zebrafish"><text x="578.5" y="684.2">MC5Ra-Zebrafish</text><text class="nm b" x="541.9" y="689.9">0.13</text></g>
<g class="nm">
<g id="b-mc5r-tet"><text class="s" x="505.2" y="575.8">99</text><text class="b" x="499.2" y="587.8">0.05</text></g>
<g id="b-mc5r-hmro"><text class="s" x="522.2" y="555.4">82</text><text class="b" x="516.2" y="567.4">0.01</text></g>
<g id="b-mc5r-hmr"><text class="s" x="539.2" y="541.8">94</text><text class="b" x="533.2" y="553.8">0.02</text></g>
<g id="b-mc5r-mr"><text class="s" x="556.2" y="550.9">100</text><text class="b" x="550.2" y="562.9">0.06</text></g>
<g id="b-mc5r-ctz"><text class="s" x="539.2" y="596.2">100</text><text class="b" x="524.7" y="608.2">0.07</text></g>
<g id="b-mc5r-ct"><text class="s" x="556.2" y="587.2">100</text><text class="b" x="550.2" y="599.2">0.04</text></g>
<g id="b-mc5r-f4"><text class="s" x="505.2" y="664.3">99</text><text class="b" x="499.2" y="676.3">0.03</text></g>
<g id="b-mc5r-f3"><text class="s" x="522.2" y="650.7">51</text><text class="b" x="516.2" y="662.7">0.01</text></g>
<g id="b-mc5r-ttsm"><text class="s" x="539.2" y="635.6">90</text><text class="b" x="533.2" y="647.6">0.02</text></g>
<g id="b-mc5r-tt"><text class="s" x="556.2" y="623.5">100</text><text class="b" x="550.2" y="635.5">0.05</text></g>
<g id="b-mc5r-sm"><text class="s" x="556.2" y="647.7">54</text><text class="b" x="550.2" y="659.7">0.02</text></g>
</g>
</g>

<g id="b-mc3r" class="lf f3">
<g id="b-mc3r-human"><text x="578.5" y="720.5">MC3R-Human</text><text class="nm b" x="558.9" y="726.2">0.05</text></g>
<g id="b-mc3r-mouse"><text x="578.5" y="732.6">MC3R-Mouse</text><text class="nm b" x="567.4" y="738.3">0.02</text></g>
<g id="b-mc3r-rat"><text x="578.5" y="744.7">MC3R-Rat</text><text class="nm b" x="567.4" y="750.4">0.02</text></g>
<g id="b-mc3r-zebrafinch"><text x="578.5" y="756.8">MC3R-Zebrafinch</text><text class="nm b" x="567.4" y="762.5">0.04</text></g>
<g id="b-mc3r-turkey"><text x="578.5" y="768.9">MC3R-Turkey</text><text class="nm b" x="567.4" y="774.6">0.04</text></g>
<g id="b-mc3r-anolelizard"><text x="578.5" y="781">MC3R-AnoleLizard</text><text class="nm b" x="558.9" y="786.7">0.12</text></g>
<g id="b-mc3r-xenopus"><text x="578.5" y="793.1">MC3R-Xenopus</text><text class="nm b" x="541.9" y="798.8">0.18</text></g>
<g id="b-mc3r-callorhinchus"><text x="578.5" y="805.2">MC3R-Callorhinchus</text><text class="nm b" x="533.4" y="810.9">0.20</text></g>
<g id="b-mc3r-zebrafish"><text x="578.5" y="817.3">MC3R-Zebrafish</text><text class="nm b" x="524.9" y="823">0.25</text></g>
<g class="nm">
<g id="b-mc3r-x5"><text class="s" x="488.2" y="782.3">81</text><text class="b" x="482.2" y="794.3">0.06</text></g>
<g id="b-mc3r-x4"><text class="s" x="505.2" y="765.6">36</text><text class="b" x="499.2" y="777.6">0.01</text></g>
<g id="b-mc3r-n55"><text class="s" x="522.2" y="744.5">55</text><text class="b" x="516.2" y="756.5">0.03</text></g>
<g id="b-mc3r-hmr"><text class="s" x="539.2" y="723.3">100</text><text class="b" x="533.2" y="735.3">0.10</text></g>
<g id="b-mc3r-mr"><text class="s" x="556.2" y="732.4">100</text><text class="b" x="550.2" y="744.4">0.03</text></g>
<g id="b-mc3r-zta"><text class="s" x="539.2" y="765.6">85</text><text class="b" x="533.2" y="777.6">0.03</text></g>
<g id="b-mc3r-zt"><text class="s" x="556.2" y="756.6">93</text><text class="b" x="550.2" y="768.6">0.09</text></g>
</g>
</g>
</svg>
